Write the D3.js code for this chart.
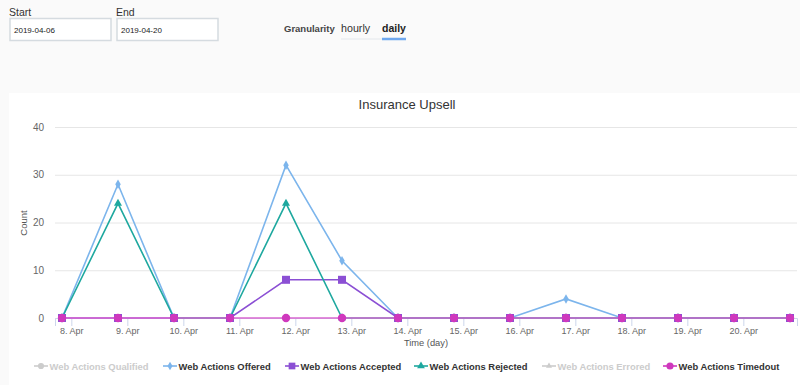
<!DOCTYPE html>
<html lang="en">
<head>
<meta charset="UTF-8">
<title>Insurance Upsell</title>
<script src="https://d3js.org/d3.v7.min.js"></script>
<style>
  body { margin: 0; background: #fafafa; font-family: "Liberation Sans", Arial, sans-serif; }
  svg { display: block; }
</style>
</head>
<body>
<svg id="chart" width="800" height="385"></svg>
<script>
  // DATA
  const days = ["2019-04-08", "2019-04-09", "2019-04-10", "2019-04-11", "2019-04-12", "2019-04-13", "2019-04-14",
                "2019-04-15", "2019-04-16", "2019-04-17", "2019-04-18", "2019-04-19", "2019-04-20", "2019-04-21"];
  const offered   = [0, 28, 0, 0, 32, 12, 0, 0, 0, 4, 0, 0, 0, 0];
  const accepted  = [0, 0, 0, 0, 8, 8, 0, 0, 0, 0, 0, 0, 0, 0];
  const rejected  = [0, 24, 0, 0, 24, 0, 0, 0, 0, 0, 0, 0, 0, 0];
  const timedout  = [0, 0, 0, 0, 0, 0, 0, 0, 0, 0, 0, 0, 0, 0];
  const legendNames = ["Web Actions Qualified", "Web Actions Offered", "Web Actions Accepted",
                       "Web Actions Rejected", "Web Actions Errored", "Web Actions Timedout"];
  const yTicks = [0, 10, 20, 30, 40];
  const tickDays = ["2019-04-08", "2019-04-09", "2019-04-10", "2019-04-11", "2019-04-12", "2019-04-13", "2019-04-14",
                    "2019-04-15", "2019-04-16", "2019-04-17", "2019-04-18", "2019-04-19", "2019-04-20"];
  const startDate = "2019-04-06", endDate = "2019-04-20";

  const svg = d3.select("#chart");

  // TOP CONTROLS
  svg.append("text").attr("x", 9).attr("y", 16).text("Start").style("font-size", "10.5px").attr("fill", "#333");
  svg.append("text").attr("x", 116).attr("y", 16).text("End").style("font-size", "10.5px").attr("fill", "#333");
  [[10, startDate], [117, endDate]].forEach(d => {
    svg.append("rect").attr("x", d[0]).attr("y", 18.5).attr("width", 101).attr("height", 22)
      .attr("fill", "#fff").attr("stroke", "#d5dbe0").attr("stroke-width", 1.5);
    svg.append("text").attr("x", d[0] + 4).attr("y", 32.5).text(d[1]).style("font-size", "8px").attr("fill", "#222");
  });
  svg.append("text").attr("x", 284).attr("y", 32).text("Granularity").style("font-size", "9.5px")
    .style("font-weight", "bold").attr("fill", "#444");
  svg.append("text").attr("x", 341).attr("y", 32).text("hourly").style("font-size", "10.7px").attr("fill", "#333");
  svg.append("text").attr("x", 382).attr("y", 32).text("daily").style("font-size", "10.5px")
    .style("font-weight", "bold").attr("fill", "#222");
  svg.append("line").attr("x1", 341).attr("x2", 406).attr("y1", 39).attr("y2", 39).attr("stroke", "#e4e8ec");
  svg.append("line").attr("x1", 382).attr("x2", 406).attr("y1", 39).attr("y2", 39).attr("stroke", "#6fa8ee").attr("stroke-width", 2.5);

  // CHART PANEL
  svg.append("rect").attr("x", 9).attr("y", 93).attr("width", 791).attr("height", 292).attr("fill", "#fff");

  const parse = d3.utcParse("%Y-%m-%d");
  const tzShift = 4 * 3600 * 1000; // ticks sit on local midnight
  const x = d3.scaleUtc()
    .domain([new Date(+parse(days[0]) - 3 * 3600 * 1000), new Date(+parse(days[days.length - 1]) + 3 * 3600 * 1000)])
    .range([55, 797]);
  const y = d3.scaleLinear().domain([0, 40]).range([318, 127]);

  // title
  svg.append("text").attr("x", 407).attr("y", 109).attr("text-anchor", "middle")
    .text("Insurance Upsell").style("font-size", "13px").attr("fill", "#333");

  // grid + y axis
  const yAxis = d3.axisLeft(y).tickValues(yTicks).tickSize(-742).tickPadding(11);
  const gy = svg.append("g").attr("transform", "translate(55,0)").call(yAxis);
  gy.select(".domain").remove();
  gy.selectAll(".tick line").attr("stroke", "#e6e6e6");
  gy.selectAll(".tick text").attr("fill", "#666").style("font-size", "10px").attr("font-family", "inherit");
  svg.append("text").attr("transform", "translate(27,223) rotate(-90)").attr("text-anchor", "middle")
    .text("Count").style("font-size", "9.5px").attr("fill", "#555");

  // x axis
  const xAxis = d3.axisBottom(x).tickValues(tickDays.map(d => new Date(+parse(d) + tzShift)))
    .tickFormat(d => d3.utcFormat("%-d")(new Date(+d - tzShift)) + ". Apr").tickSize(8).tickPadding(2);
  const gx = svg.append("g").attr("transform", "translate(0,318)").call(xAxis);
  gx.select(".domain").attr("stroke", "#ccd6eb");
  gx.selectAll(".tick line").attr("stroke", "#ccd6eb");
  gx.selectAll(".tick text").attr("fill", "#666").style("font-size", "9px").attr("font-family", "inherit");
  svg.append("text").attr("x", 426).attr("y", 346).attr("text-anchor", "middle")
    .text("Time (day)").style("font-size", "9.3px").attr("fill", "#555");

  // SERIES
  const series = [
    { name: legendNames[1], values: offered, color: "#7cb5ec", line: "#7cb5ec", symbol: d3.symbolDiamond, size: 26 },
    { name: legendNames[2], values: accepted, color: "#8b4fd4", line: "#8b4fd4", symbol: d3.symbolSquare, size: 64 },
    { name: legendNames[3], values: rejected, color: "#1ea89f", line: "#1ea89f", symbol: d3.symbolTriangle, size: 28 },
    { name: legendNames[5], values: timedout, color: "#cf38bd", line: "#d867d0", symbol: d3.symbolCircle, size: 55 }
  ];
  const line = d3.line().x((d, i) => x(parse(days[i]))).y(d => y(d));
  series.forEach(s => {
    svg.append("path").datum(s.values).attr("d", line).attr("fill", "none")
      .attr("stroke", s.line).attr("stroke-width", 1.6);
  });
  series.forEach(s => {
    svg.append("g").selectAll("path").data(s.values).join("path")
      .attr("transform", (d, i) => `translate(${x(parse(days[i]))},${y(d)})`)
      .attr("d", d3.symbol().type(s.symbol).size(s.size)).attr("fill", s.color);
  });

  // LEGEND
  const legend = [
    { name: legendNames[0], color: "#cccccc", symbol: d3.symbolCircle, size: 30, hidden: true, x: 34 },
    { name: legendNames[1], color: "#7cb5ec", symbol: d3.symbolDiamond, size: 22, hidden: false, x: 163 },
    { name: legendNames[2], color: "#8b4fd4", symbol: d3.symbolSquare, size: 45, hidden: false, x: 285 },
    { name: legendNames[3], color: "#1ea89f", symbol: d3.symbolTriangle, size: 26, hidden: false, x: 414 },
    { name: legendNames[4], color: "#cccccc", symbol: d3.symbolTriangle2, size: 26, hidden: true, x: 542 },
    { name: legendNames[5], color: "#cf38bd", symbol: d3.symbolCircle, size: 40, hidden: false, x: 663 }
  ];
  const lg = svg.append("g").selectAll("g").data(legend).join("g")
    .attr("transform", d => `translate(${d.x},366)`);
  lg.append("line").attr("x1", 0).attr("x2", 14).attr("stroke", d => d.color).attr("stroke-width", 1.6);
  lg.append("path").attr("transform", "translate(7,0)")
    .attr("d", d => d3.symbol().type(d.symbol).size(d.size)()).attr("fill", d => d.color);
  lg.append("text").attr("x", 15.5).attr("y", 3.5).text(d => d.name)
    .style("font-size", "9.4px").style("font-weight", "bold")
    .attr("fill", d => d.hidden ? "#cccccc" : "#333");
</script>
</body>
</html>
